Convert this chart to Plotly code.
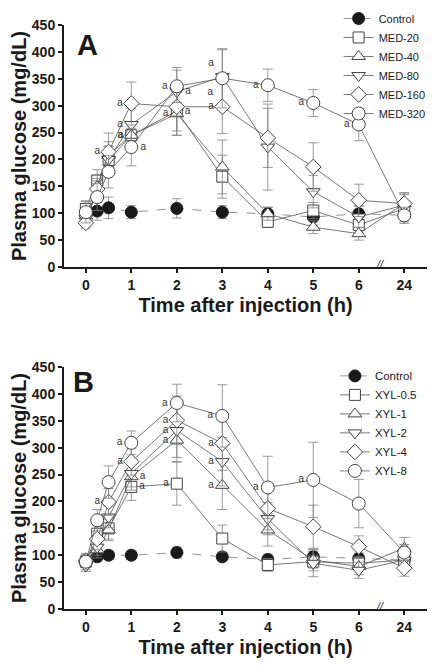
import plotly.graph_objects as go
from plotly.subplots import make_subplots

# time points (h) and their categorical axis positions (24 h placed after a break)
times = [0, 0.25, 0.5, 1, 2, 3, 4, 5, 6, 24]
xpos = [0, 0.25, 0.5, 1, 2, 3, 4, 5, 6, 7]
tick_vals = [0, 1, 2, 3, 4, 5, 6, 7]
tick_text = ["0", "1", "2", "3", "4", "5", "6", "24"]

# ---- Panel A (MED) ----
a_names = ["Control", "MED-20", "MED-40", "MED-80", "MED-160", "MED-320"]
a_mean = [
    [100, 104, 110, 102, 109, 102, 99, 93, 99, 96],
    [108, 161, 199, 245, 290, 168, 84, 105, 78, 109],
    [95, 150, 208, 245, 285, 186, 99, 74, 62, 118],
    [90, 140, 200, 265, 326, 354, 223, 140, 93, 115],
    [82, 145, 214, 304, 298, 298, 240, 186, 124, 118],
    [102, 130, 177, 223, 336, 351, 338, 305, 265, 96],
]
a_err = [
    [15, 17, 20, 12, 18, 12, 12, 15, 15, 12],
    [15, 20, 25, 25, 45, 40, 10, 15, 15, 15],
    [15, 20, 25, 25, 40, 50, 12, 12, 12, 20],
    [15, 20, 25, 30, 45, 50, 80, 30, 20, 20],
    [10, 20, 35, 40, 45, 50, 55, 45, 30, 20],
    [20, 25, 30, 35, 30, 55, 30, 25, 30, 15],
]
a_sig = [
    [""] * 10,
    ["", "", "", "L", "R", "", "", "", "", ""],
    ["", "", "", "L", "L", "", "", "", "", ""],
    ["", "", "", "L", "R", "TL", "", "", "", ""],
    ["", "", "L", "L", "", "L", "", "", "", ""],
    ["", "", "", "R", "L", "BL", "L", "L", "L", ""],
]

# ---- Panel B (XYL) ----
b_names = ["Control", "XYL-0.5", "XYL-1", "XYL-2", "XYL-4", "XYL-8"]
b_mean = [
    [88, 97, 100, 100, 105, 97, 92, 97, 94, 91],
    [88, 140, 150, 227, 233, 131, 82, 88, 85, 91],
    [92, 110, 147, 246, 314, 230, 147, 91, 79, 113],
    [80, 115, 171, 252, 332, 274, 168, 85, 72, 91],
    [90, 130, 199, 274, 351, 308, 187, 153, 116, 76],
    [88, 165, 236, 309, 383, 359, 226, 240, 196, 105],
]
b_err = [
    [10, 8, 8, 8, 10, 8, 10, 10, 10, 10],
    [10, 15, 20, 25, 40, 25, 12, 12, 12, 12],
    [10, 15, 20, 25, 40, 45, 30, 20, 15, 20],
    [10, 15, 20, 25, 50, 45, 30, 25, 15, 20],
    [10, 20, 25, 25, 45, 50, 40, 40, 20, 15],
    [15, 20, 30, 22, 35, 58, 58, 70, 45, 15],
]
b_sig = [
    [""] * 10,
    ["", "", "", "R", "L", "", "", "", "", ""],
    ["", "", "", "R", "L", "L", "", "", "", ""],
    ["", "", "", "", "L", "L", "", "", "", ""],
    ["", "", "L", "L", "L", "L", "", "", "", ""],
    ["", "", "", "L", "L", "L", "L", "L", "", ""],
]

symbols = ["circle", "square", "triangle-up", "triangle-down", "diamond", "circle"]
sizes = [12, 11, 12, 12, 12, 13]

fig = make_subplots(rows=2, cols=1, vertical_spacing=0.0)

ink = "#1a1a1a"
line_col = "#555555"
err_col = "#808080"
pos_map = {"L": "middle left", "R": "middle right", "TL": "top left", "BL": "bottom left",
           "": "middle left"}

def add_panel(row, names, means, errs, sigs, legend):
    for i, name in enumerate(names):
        is_ctrl = i == 0
        fig.add_trace(
            go.Scatter(
                x=xpos, y=means[i], name=name,
                mode="lines+markers+text",
                text=["a" if s else "" for s in sigs[i]],
                textposition=[pos_map[s] for s in sigs[i]],
                textfont=dict(family="Arial", size=10, color="#333333"),
                line=dict(color="#777777" if is_ctrl else line_col, width=0.8,
                          dash="dash" if is_ctrl else "solid"),
                marker=dict(symbol=symbols[i], size=sizes[i],
                            color=ink if is_ctrl else "white",
                            line=dict(color=ink if is_ctrl else "#444444", width=1)),
                error_y=dict(type="data", array=errs[i], color=err_col, thickness=0.8, width=5),
                legend=legend,
                cliponaxis=False,
            ),
            row=row, col=1,
        )

add_panel(1, a_names, a_mean, a_err, a_sig, "legend")
add_panel(2, b_names, b_mean, b_err, b_sig, "legend2")

axis_font = dict(family="Arial", size=14, color=ink, weight="bold")
title_font = dict(family="Arial", size=20, color=ink, weight="bold")

for r in (1, 2):
    fig.update_xaxes(row=r, col=1, range=[-0.48, 7.5], tickvals=tick_vals, ticktext=tick_text,
                     showline=True, linecolor=ink, linewidth=2, ticks="outside", tickwidth=2,
                     ticklen=4, tickcolor=ink, showgrid=False, zeroline=False,
                     tickfont=axis_font, automargin=False,
                     title=dict(text="Time after injection (h)", font=title_font, standoff=6))
    fig.update_yaxes(row=r, col=1, range=[0, 450], dtick=50, showline=True, linecolor=ink,
                     linewidth=2, ticks="outside", tickwidth=2, ticklen=4, tickcolor=ink,
                     showgrid=False, zeroline=False, tickfont=axis_font, automargin=False,
                     title=dict(text="Plasma glucose (mg/dL)", font=title_font, standoff=4))

fig.update_layout(
    width=431, height=658,
    margin=dict(l=56, r=12, t=17, b=57, autoexpand=False),
    paper_bgcolor="white", plot_bgcolor="white",
    xaxis=dict(domain=[0, 1]), yaxis=dict(domain=[0.5856, 1.0]),
    xaxis2=dict(domain=[0, 1]), yaxis2=dict(domain=[0.0, 0.4144]),
    legend=dict(x=1.01, y=1.036, xanchor="right", yanchor="top",
                font=dict(family="Arial", size=11, color=ink),
                bgcolor="rgba(0,0,0,0)", itemwidth=30, tracegroupgap=0),
    legend2=dict(x=0.986, y=0.424, xanchor="right", yanchor="top",
                 font=dict(family="Arial", size=11.5, color=ink),
                 bgcolor="rgba(0,0,0,0)", itemwidth=30, tracegroupgap=0),
    showlegend=True,
)

# panel letters
fig.add_annotation(xref="x domain", yref="y domain", x=0.03, y=0.917, text="<b>A</b>", showarrow=False,
                   font=dict(family="Arial", size=29, color=ink), xanchor="left", yanchor="middle")
fig.add_annotation(xref="x2 domain", yref="y2 domain", x=0.02, y=0.94, text="<b>B</b>", showarrow=False,
                   font=dict(family="Arial", size=29, color=ink), xanchor="left", yanchor="middle")
# axis break marks
for xr, yr in (("x", "y"), ("x2", "y2")):
    fig.add_annotation(xref=xr, yref=yr, x=6.47, y=0, text="<i>//</i>", showarrow=False,
                       font=dict(family="Arial", size=11, color=ink), yanchor="bottom", yshift=-5)

fig.write_html("out.html")
